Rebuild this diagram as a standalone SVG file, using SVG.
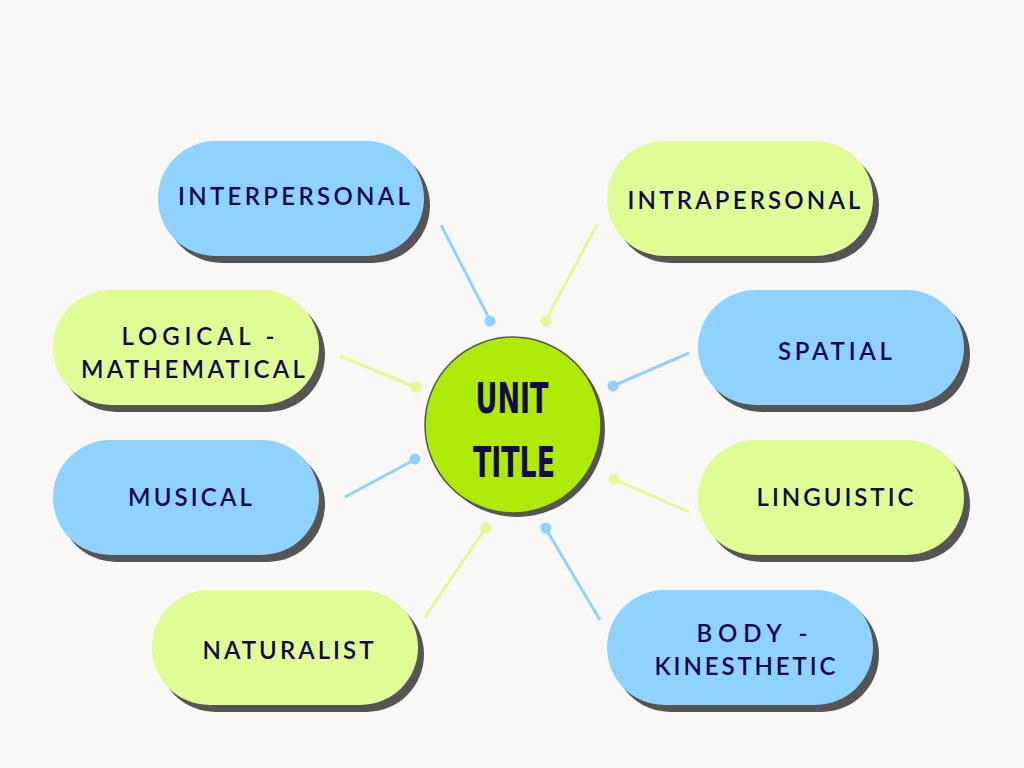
<svg xmlns="http://www.w3.org/2000/svg" width="1024" height="768" viewBox="0 0 1024 768">
<style>
.bg{fill:#faf8f7}
.sh{fill:#555555}
.blue{fill:#8fd2fd}
.green{fill:#e0fc94}
.t{font-family:Lato,"Open Sans","Liberation Sans",sans-serif;font-size:24px;font-weight:600;fill:#14094a;text-anchor:middle;dominant-baseline:central}
.title{font-family:"DejaVu Sans",sans-serif;font-stretch:condensed;font-size:43px;font-weight:bold;fill:#14094a;text-anchor:middle}
.lb{stroke:#8fd2fd;stroke-width:3;fill:none}
.lg{stroke:#e0fc94;stroke-width:3;fill:none}
.db{fill:#8fd2fd}
.dg{fill:#e0fc94}
</style>
<rect class="bg" x="0" y="0" width="1024" height="768"/>
<g id="connectors">
<line class="lb" x1="441" y1="225" x2="490" y2="320"/><circle class="db" cx="490" cy="321" r="5.5"/>
<line class="lg" x1="597" y1="225" x2="546" y2="320"/><circle class="dg" cx="546" cy="321" r="5.5"/>
<line class="lg" x1="340" y1="356" x2="415" y2="387"/><circle class="dg" cx="416" cy="387" r="5.5"/>
<line class="lb" x1="689" y1="353" x2="613" y2="386"/><circle class="db" cx="613" cy="386" r="5.5"/>
<line class="lb" x1="345" y1="497" x2="414" y2="460"/><circle class="db" cx="415" cy="459" r="5.5"/>
<line class="lg" x1="689" y1="512" x2="614" y2="479"/><circle class="dg" cx="614" cy="479" r="5.5"/>
<line class="lg" x1="425" y1="617" x2="485" y2="529"/><circle class="dg" cx="486" cy="528" r="5.5"/>
<line class="lb" x1="600" y1="620" x2="546" y2="529"/><circle class="db" cx="546" cy="528" r="5.5"/>
</g>
<g id="center">
<circle class="sh" cx="517" cy="429" r="88"/>
<circle cx="513" cy="425" r="88" fill="#adea06" stroke="#555" stroke-width="1.5"/>
<text class="title" x="512" y="413" textLength="73" lengthAdjust="spacingAndGlyphs">UNIT</text>
<text class="title" x="514" y="477" textLength="82" lengthAdjust="spacingAndGlyphs">TITLE</text>
</g>
<g id="interpersonal">
<rect class="sh" x="164" y="148" width="266" height="115" rx="57.5"/>
<rect class="blue" x="158" y="141" width="266" height="115" rx="57.5"/>
<text class="t" x="294" y="195" textLength="232" lengthAdjust="spacing">INTERPERSONAL</text>
</g>
<g id="intrapersonal">
<rect class="sh" x="613" y="148" width="266" height="115" rx="57.5"/>
<rect class="green" x="607" y="141" width="266" height="115" rx="57.5"/>
<text class="t" x="744" y="199" textLength="233" lengthAdjust="spacing">INTRAPERSONAL</text>
</g>
<g id="logical">
<rect class="sh" x="59" y="297" width="266" height="115" rx="57.5"/>
<rect class="green" x="53" y="290" width="266" height="115" rx="57.5"/>
<text class="t" x="198" y="335" textLength="153" lengthAdjust="spacing">LOGICAL -</text>
<text class="t" x="193" y="368" textLength="224" lengthAdjust="spacing">MATHEMATICAL</text>
</g>
<g id="spatial">
<rect class="sh" x="704" y="297" width="266" height="115" rx="57.5"/>
<rect class="blue" x="698" y="290" width="266" height="115" rx="57.5"/>
<text class="t" x="835" y="350" textLength="114" lengthAdjust="spacing">SPATIAL</text>
</g>
<g id="musical">
<rect class="sh" x="59" y="447" width="266" height="115" rx="57.5"/>
<rect class="blue" x="53" y="440" width="266" height="115" rx="57.5"/>
<text class="t" x="190" y="496" textLength="124" lengthAdjust="spacing">MUSICAL</text>
</g>
<g id="linguistic">
<rect class="sh" x="704" y="447" width="266" height="115" rx="57.5"/>
<rect class="green" x="698" y="440" width="266" height="115" rx="57.5"/>
<text class="t" x="835" y="496" textLength="157" lengthAdjust="spacing">LINGUISTIC</text>
</g>
<g id="naturalist">
<rect class="sh" x="158" y="597" width="266" height="115" rx="57.5"/>
<rect class="green" x="152" y="590" width="266" height="115" rx="57.5"/>
<text class="t" x="288" y="649" textLength="171" lengthAdjust="spacing">NATURALIST</text>
</g>
<g id="body">
<rect class="sh" x="613" y="597" width="266" height="115" rx="57.5"/>
<rect class="blue" x="607" y="590" width="266" height="115" rx="57.5"/>
<text class="t" x="752" y="632" textLength="111" lengthAdjust="spacing">BODY -</text>
<text class="t" x="745" y="665" textLength="181" lengthAdjust="spacing">KINESTHETIC</text>
</g>
</svg>
